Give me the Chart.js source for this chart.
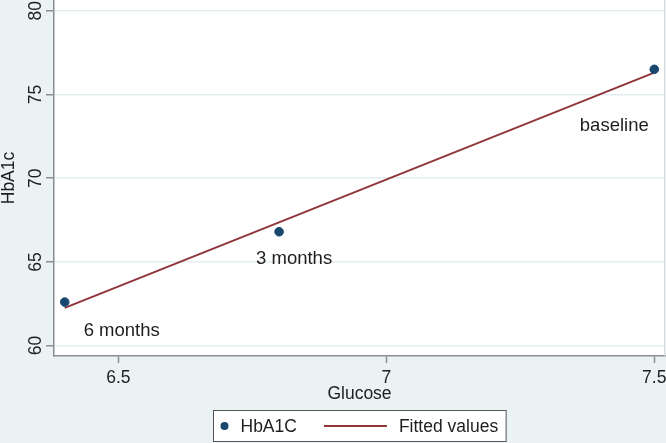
<!DOCTYPE html>
<html>
<head>
<meta charset="utf-8">
<script src="https://cdn.jsdelivr.net/npm/chart.js@4/dist/chart.umd.min.js"></script>
<style>
  html, body { margin: 0; padding: 0; background: #eaf2f3; }
  #wrap { width: 666px; height: 443px; }
</style>
</head>
<body>
<div id="wrap"><canvas id="myChart" width="666" height="443"></canvas></div>
<script>
// data
var hbX = [6.4, 6.8, 7.5];
var hbY = [62.6, 66.8, 76.5];
var pointLabels = ['6 months', '3 months', 'baseline'];
var fitX = [6.4, 7.5];
var fitY = [62.25, 76.3];
var xTicks = [6.5, 7, 7.5];
var yTicks = [60, 65, 70, 75, 80];

var FONT = '"Liberation Sans", Arial, sans-serif';
var NAVY = '#1a476f';
var MAROON = '#90353b';
var AXIS = '#8a8f91';
var TEXT = '#1e1e1e';

// offsets of the marker labels from their points
var labelOffsets = [[57, 29], [15, 27], [-40, 57]];

var bgPlugin = {
    id: 'bg',
    beforeDraw: function (chart) {
        var ctx = chart.ctx, a = chart.chartArea;
        ctx.save();
        ctx.fillStyle = '#eaf2f3';
        ctx.fillRect(0, 0, chart.width, chart.height);
        ctx.fillStyle = '#ffffff';
        ctx.fillRect(a.left, a.top, a.right - a.left, a.bottom - a.top);
        ctx.restore();
    },
    afterDraw: function (chart) {
        var ctx = chart.ctx, a = chart.chartArea;
        ctx.save();
        // right frame edge
        ctx.strokeStyle = '#d3dcdf';
        ctx.lineWidth = 1;
        ctx.beginPath();
        ctx.moveTo(a.right - 0.5, a.top);
        ctx.lineTo(a.right - 0.5, a.bottom);
        ctx.stroke();

        // marker labels
        var meta = chart.getDatasetMeta(0);
        ctx.font = '18.5px ' + FONT;
        ctx.fillStyle = TEXT;
        ctx.textAlign = 'center';
        ctx.textBaseline = 'middle';
        meta.data.forEach(function (pt, i) {
            ctx.fillText(pointLabels[i], pt.x + labelOffsets[i][0], pt.y + labelOffsets[i][1]);
        });

        // legend box
        ctx.font = '17.5px ' + FONT;
        var w1 = ctx.measureText(chart.data.datasets[0].label).width;
        var w2 = ctx.measureText(chart.data.datasets[1].label).width;
        var boxW = 11 + 16 + w1 + 27 + 63 + 12 + w2 + 8;
        var boxL = Math.round((a.left + a.right) / 2 - boxW / 2) + 0.5;
        var boxT = 410.5, boxH = 31;
        var cy = boxT + boxH / 2;
        ctx.fillStyle = '#ffffff';
        ctx.fillRect(boxL, boxT, boxW, boxH);
        ctx.strokeStyle = '#555';
        ctx.lineWidth = 1;
        ctx.strokeRect(boxL, boxT, boxW, boxH);

        var x = boxL + 11;
        ctx.fillStyle = NAVY;
        ctx.beginPath();
        ctx.arc(x, cy, 4, 0, Math.PI * 2);
        ctx.fill();
        x += 16;
        ctx.fillStyle = TEXT;
        ctx.textAlign = 'left';
        ctx.fillText(chart.data.datasets[0].label, x, cy + 1);
        x += w1 + 27;
        ctx.strokeStyle = MAROON;
        ctx.lineWidth = 2;
        ctx.beginPath();
        ctx.moveTo(x, cy);
        ctx.lineTo(x + 63, cy);
        ctx.stroke();
        x += 63 + 12;
        ctx.fillText(chart.data.datasets[1].label, x, cy + 1);
        ctx.restore();
    }
};

var ctx = document.getElementById('myChart').getContext('2d');
new Chart(ctx, {
    type: 'scatter',
    data: {
        datasets: [{
            label: 'HbA1C',
            data: hbX.map(function (x, i) { return { x: x, y: hbY[i] }; }),
            backgroundColor: NAVY,
            borderColor: NAVY,
            pointRadius: 4.3,
            pointHoverRadius: 4.3,
            clip: false,
            order: 1
        }, {
            label: 'Fitted values',
            type: 'line',
            data: fitX.map(function (x, i) { return { x: x, y: fitY[i] }; }),
            borderColor: MAROON,
            borderWidth: 2,
            pointRadius: 0,
            fill: false,
            order: 2
        }]
    },
    options: {
        responsive: false,
        animation: false,
        events: [],
        layout: { autoPadding: false, padding: { top: 0, right: 1, bottom: 37, left: 0 } },
        plugins: {
            legend: { display: false },
            tooltip: { enabled: false }
        },
        scales: {
            x: {
                type: 'linear',
                min: 6.38,
                max: 7.52,
                afterBuildTicks: function (axis) {
                    axis.ticks = xTicks.map(function (v) { return { value: v }; });
                },
                afterFit: function (axis) {
                    axis.height = 50;
                    axis.paddingLeft = 0;
                    axis.paddingRight = 0;
                },
                grid: { drawOnChartArea: false, drawTicks: true, tickLength: 7, tickColor: AXIS, tickWidth: 1.5 },
                border: { display: true, color: AXIS, width: 1.5 },
                ticks: {
                    color: TEXT,
                    font: { family: FONT, size: 17.5 },
                    padding: 5,
                    maxRotation: 0,
                    callback: function (v) { return String(v); }
                },
                title: {
                    display: true,
                    text: 'Glucose',
                    color: TEXT,
                    font: { family: FONT, size: 17.5, lineHeight: 1 },
                    padding: { top: 0, bottom: 3 }
                }
            },
            y: {
                type: 'linear',
                min: 59.38,
                max: 80.64,
                afterBuildTicks: function (axis) {
                    axis.ticks = yTicks.map(function (v) { return { value: v }; });
                },
                afterFit: function (axis) {
                    axis.width = 54;
                    axis.paddingTop = 0;
                    axis.paddingBottom = 0;
                },
                grid: { color: '#e4eef1', lineWidth: 1.5, drawTicks: true, tickLength: 8, tickColor: AXIS, tickWidth: 1.5 },
                border: { display: true, color: AXIS, width: 1.5 },
                ticks: {
                    color: TEXT,
                    font: { family: FONT, size: 17.5 },
                    padding: 0,
                    minRotation: 90,
                    maxRotation: 90,
                    crossAlign: 'center',
                    callback: function (v) { return String(v); }
                },
                title: {
                    display: true,
                    text: 'HbA1c',
                    color: TEXT,
                    font: { family: FONT, size: 17.5, lineHeight: 1 },
                    padding: 0
                }
            }
        }
    },
    plugins: [bgPlugin]
});
</script>
</body>
</html>
